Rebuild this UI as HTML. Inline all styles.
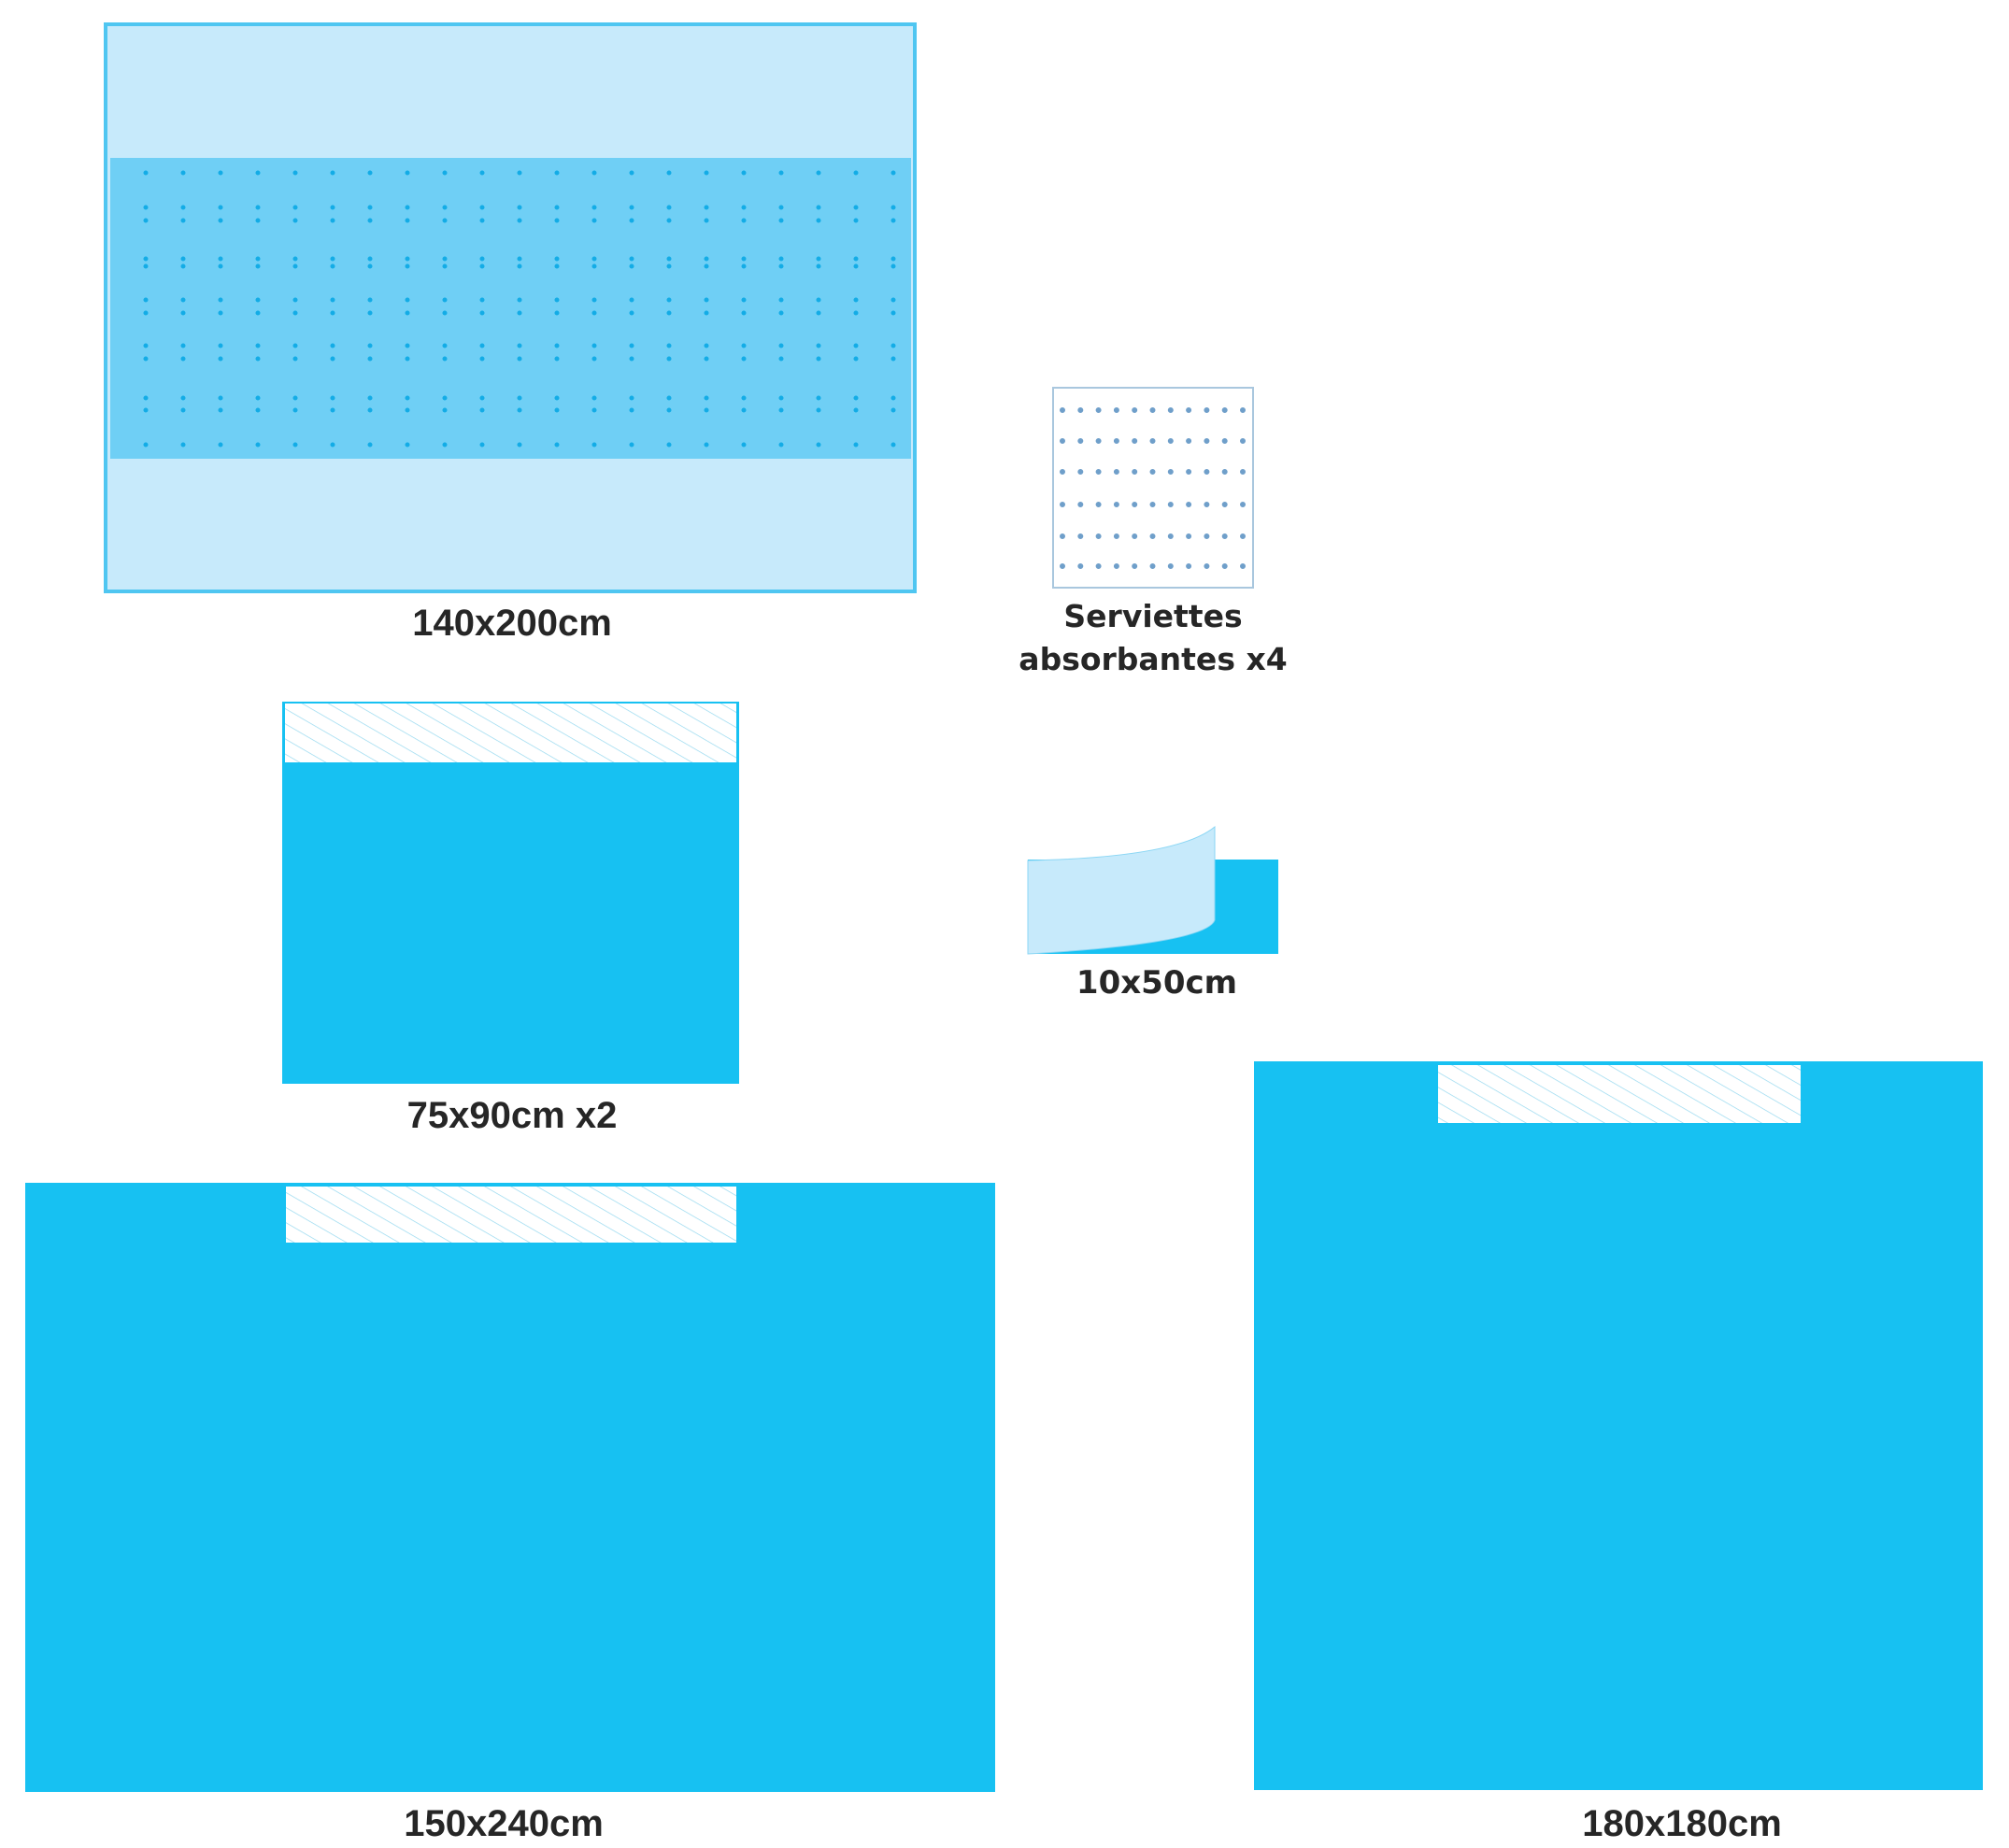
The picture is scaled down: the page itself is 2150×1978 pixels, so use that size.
<!DOCTYPE html>
<html><head><meta charset="utf-8"><style>
html,body{margin:0;padding:0;background:#fff;}
svg{display:block}
.l{font-family:"Liberation Sans",sans-serif;font-weight:bold;font-size:40px;fill:#262626;text-anchor:middle}
.d{font-family:"DejaVu Sans","Liberation Sans",sans-serif;font-weight:bold;fill:#262626;text-anchor:middle}
</style></head><body>
<svg width="2150" height="1978" viewBox="0 0 2150 1978" xmlns="http://www.w3.org/2000/svg">
<defs>
<pattern id="hatch" width="14" height="14" patternUnits="userSpaceOnUse" patternTransform="rotate(30)"><line x1="0" y1="0" x2="14" y2="0" stroke="#95d8ef" stroke-width="1.4"/></pattern>
</defs>

<!-- 140x200 -->
<rect x="113" y="26" width="866" height="607" fill="#c7eafb" stroke="#4fc6f1" stroke-width="4"/>
<rect x="118" y="169" width="857" height="322" fill="#6fcff5"/>
<g stroke="#13ace6" stroke-width="5" stroke-linecap="round" stroke-dasharray="0 40">
<line x1="156" y1="185" x2="960" y2="185"/>
<line x1="156" y1="222" x2="960" y2="222"/>
<line x1="156" y1="236" x2="960" y2="236"/>
<line x1="156" y1="277" x2="960" y2="277"/>
<line x1="156" y1="285" x2="960" y2="285"/>
<line x1="156" y1="321" x2="960" y2="321"/>
<line x1="156" y1="335" x2="960" y2="335"/>
<line x1="156" y1="370" x2="960" y2="370"/>
<line x1="156" y1="384" x2="960" y2="384"/>
<line x1="156" y1="426" x2="960" y2="426"/>
<line x1="156" y1="439" x2="960" y2="439"/>
<line x1="156" y1="476" x2="960" y2="476"/>
</g>
<text class="l" x="548" y="680">140x200cm</text>

<!-- serviettes -->
<rect x="1127" y="415" width="214" height="214" fill="#fff" stroke="#a9c7de" stroke-width="2"/>
<g stroke="#6f9fca" stroke-width="6" stroke-linecap="round" stroke-dasharray="0 19.3">
<line x1="1137" y1="439" x2="1335" y2="439"/>
<line x1="1137" y1="472" x2="1335" y2="472"/>
<line x1="1137" y1="505" x2="1335" y2="505"/>
<line x1="1137" y1="540" x2="1335" y2="540"/>
<line x1="1137" y1="574" x2="1335" y2="574"/>
<line x1="1137" y1="606" x2="1335" y2="606"/>
</g>
<text class="d" x="1234" y="671" font-size="33">Serviettes</text>
<text class="d" x="1234" y="717" font-size="33">absorbantes x4</text>

<!-- 75x90 -->
<rect x="302" y="751" width="489" height="409" fill="#17c1f2"/>
<rect x="305" y="753" width="483" height="63" fill="#fff"/>
<rect x="305" y="753" width="483" height="63" fill="url(#hatch)"/>
<text class="l" x="548" y="1207">75x90cm x2</text>

<!-- 10x50 -->
<rect x="1100" y="920" width="268" height="101" fill="#17c1f2"/>
<path d="M1100 921 Q1260 918 1300 885 L1300 985 Q1290 1010 1100 1021 Z" fill="#c7eafb" stroke="#8ad6f4" stroke-width="1"/>
<text class="d" x="1238" y="1063" font-size="34">10x50cm</text>

<!-- 150x240 -->
<rect x="27" y="1266" width="1038" height="652" fill="#17c1f2"/>
<rect x="306" y="1270" width="482" height="60" fill="#fff"/>
<rect x="306" y="1270" width="482" height="60" fill="url(#hatch)"/>
<text class="l" x="539" y="1965">150x240cm</text>

<!-- 180x180 -->
<rect x="1342" y="1136" width="780" height="780" fill="#17c1f2"/>
<rect x="1539" y="1140" width="388" height="62" fill="#fff"/>
<rect x="1539" y="1140" width="388" height="62" fill="url(#hatch)"/>
<text class="l" x="1800" y="1965">180x180cm</text>
</svg>
</body></html>
